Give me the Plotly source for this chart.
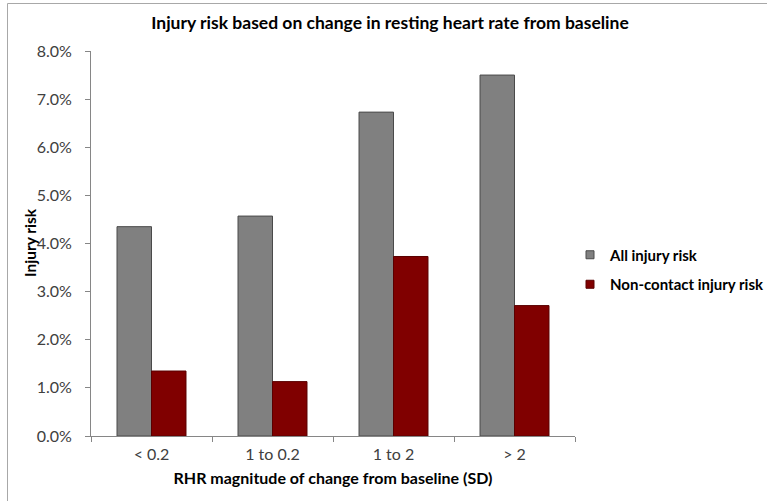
import plotly.graph_objects as go

# Categories and series values (injury risk, fraction)
categories = ["< 0.2", "1 to 0.2", "1 to 2", "> 2"]
all_injury_risk = [0.0435, 0.0457, 0.0673, 0.0750]
non_contact_risk = [0.0135, 0.0113, 0.0373, 0.0271]
y_ticks = [0.0, 0.01, 0.02, 0.03, 0.04, 0.05, 0.06, 0.07, 0.08]
series_names = ["All injury risk", "Non-contact injury risk"]
series_colors = ["#808080", "#800000"]
series_edges = ["#4a4a4a", "#5a0000"]

W, H = 767, 501
L, R, T, B = 91, 192, 51, 65
pw, ph = W - L - R, H - T - B

FONT = "Lato, 'Open Sans', sans-serif"
AXIS_COLOR = "#868686"


def px_x(x):
    return (x - L) / pw


def px_y(y):
    return (H - B - y) / ph


fig = go.Figure()
for name, vals, col, edge in zip(series_names, [all_injury_risk, non_contact_risk],
                                 series_colors, series_edges):
    fig.add_trace(go.Bar(
        x=categories, y=vals, name=name, showlegend=False,
        marker=dict(color=col, line=dict(color=edge, width=1)),
    ))

# Legend entries with small square swatches
for i, (name, col, edge) in enumerate(zip(series_names, series_colors, series_edges)):
    fig.add_trace(go.Scatter(
        x=[None], y=[None], mode="markers", name=name,
        legendgroup=f"g{i}",
        marker=dict(symbol="square", size=8, color=col, line=dict(color=edge, width=1)),
    ))

# Light outer frame (left and top edges visible)
fig.add_shape(
    type="rect", xref="paper", yref="paper",
    x0=px_x(7.5), x1=px_x(W + 20),
    y0=px_y(H + 20), y1=px_y(3.5),
    line=dict(color="#a8a8a8", width=1), fillcolor="rgba(0,0,0,0)",
)

# Y axis title, rotated
fig.add_annotation(
    text="<b>Injury risk</b>", xref="paper", yref="paper",
    x=px_x(30), y=px_y(243), xanchor="center", yanchor="middle",
    textangle=-90, showarrow=False,
    font=dict(family=FONT, size=15.5, color="#000000"),
)

fig.update_layout(
    width=W, height=H,
    margin=dict(l=L, r=R, t=T, b=B, autoexpand=False),
    paper_bgcolor="white", plot_bgcolor="white",
    barmode="group", bargap=0.43, bargroupgap=0,
    font=dict(family=FONT, color="#404040", size=16),
    title=dict(
        text="<b>Injury risk based on change in resting heart rate from baseline</b>",
        x=390 / W, xanchor="center", y=1 - 23 / H, yanchor="middle",
        font=dict(family=FONT, size=17.5, color="#000000"),
    ),
    legend=dict(
        x=px_x(570), xanchor="left", y=px_y(269.5), yanchor="middle",
        font=dict(family=FONT, size=15, color="#000000", weight="bold"),
        itemwidth=30, traceorder="grouped", tracegroupgap=7,
        bgcolor="rgba(0,0,0,0)",
    ),
    showlegend=True,
)

fig.update_xaxes(
    showline=True, linecolor=AXIS_COLOR, linewidth=1,
    ticks="outside", tickson="boundaries", ticklen=5, tickcolor=AXIS_COLOR,
    showgrid=False, tickfont=dict(size=16, color="#404040"),
    ticklabelstandoff=4,
    title=dict(text="<b>RHR magnitude of change from baseline (SD)</b>",
               font=dict(size=16, color="#000000"), standoff=10),
)
fig.update_yaxes(
    range=[0, 0.08], tickvals=y_ticks, tickformat=".1%",
    showline=True, linecolor=AXIS_COLOR, linewidth=1,
    ticks="outside", ticklen=5, tickcolor=AXIS_COLOR,
    showgrid=False, zeroline=False, tickfont=dict(size=16, color="#404040"),
    ticklabelstandoff=10,
)

fig.write_html("out.html")
